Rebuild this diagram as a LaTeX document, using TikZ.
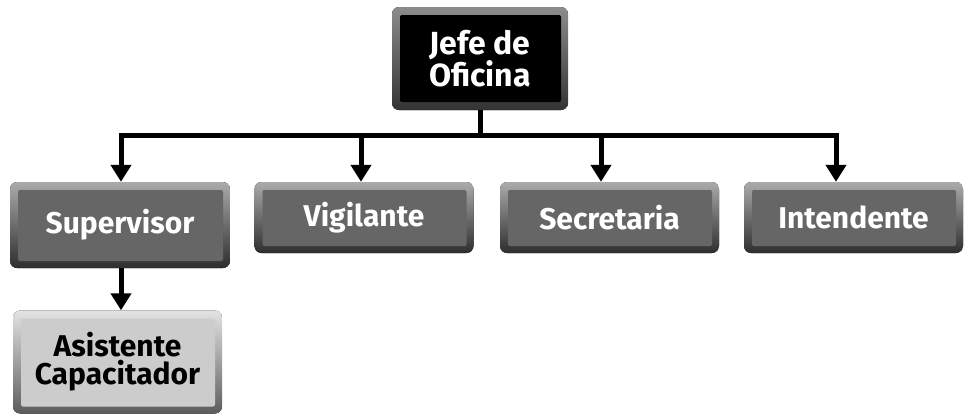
\documentclass[tikz,border=0pt]{standalone}
\usepackage{fontspec}
\setmainfont{Fira Sans}
\usetikzlibrary{arrows.meta}
\definecolor{boxgray}{HTML}{666666}
\definecolor{boxlight}{HTML}{CCCCCC}
\tikzset{
  bevel/.style={rounded corners=7pt, inner sep=0pt, align=center,
    font=\bfseries\fontsize{30}{28}\selectfont,
    path picture={
      \fill[top color=#1!55!white, bottom color=#1!45!black]
        (path picture bounding box.south west) rectangle (path picture bounding box.north east);
      \fill[#1, rounded corners=2pt]
        ([xshift=8pt,yshift=-8pt]path picture bounding box.north west) rectangle
        ([xshift=-7pt,yshift=7pt]path picture bounding box.south east);
    }},
  chef/.style={bevel=black, text=white, path picture={
      \fill[top color=black!45!white, bottom color=black!80!white]
        (path picture bounding box.south west) rectangle (path picture bounding box.north east);
      \fill[black, rounded corners=2pt]
        ([xshift=8pt,yshift=-8pt]path picture bounding box.north west) rectangle
        ([xshift=-7pt,yshift=8pt]path picture bounding box.south east);
    }, font=\bfseries\fontsize{32}{30}\selectfont},
  staff/.style={bevel=boxgray, text=white, minimum width=219pt, minimum height=71pt},
  helper/.style={bevel=boxlight, text=black},
  link/.style={line width=5pt, -{Triangle[width=20pt,length=17pt]}},
  bus/.style={line width=5pt}
}
\begin{document}
\begin{tikzpicture}[x=1pt,y=-1pt]
  \useasboundingbox (0,0) rectangle (967,415);

  % Jefe
  \node[chef, minimum width=176pt, minimum height=103pt] (jefe) at (480,58.5) {Jefe de\\Oficina};

  % Primer nivel
  \node[staff, minimum width=220pt, minimum height=86pt] (sup) at (120,225) {Supervisor};
  \node[staff] (vig) at (364,217.5) {Vigilante};
  \node[staff] (sec) at (609.5,217.5) {Secretaria};
  \node[staff] (int) at (853.5,217.5) {Intendente};

  % Segundo nivel
  \node[helper, minimum width=209pt, minimum height=103pt] (asis) at (117.5,362) {Asistente\\Capacitador};

  % Conectores
  \coordinate (j0) at (480,135.5);
  \coordinate (b1) at (121,135.5);
  \coordinate (b2) at (361,135.5);
  \coordinate (b3) at (601,135.5);
  \coordinate (b4) at (836,135.5);
  \draw[bus] (jefe.south -| j0) -- (j0);
  \draw[bus] ([xshift=-2.5pt]b1) -- ([xshift=2.5pt]b4);
  \draw[link] ([yshift=-2.5pt]b1) -- (b1 |- sup.north);
  \draw[link] (b2) -- (b2 |- vig.north);
  \draw[link] (b3) -- (b3 |- sec.north);
  \draw[link] ([yshift=-2.5pt]b4) -- (b4 |- int.north);
  \draw[link] (sup.south -| b1) -- (b1 |- asis.north);
\end{tikzpicture}
\end{document}
